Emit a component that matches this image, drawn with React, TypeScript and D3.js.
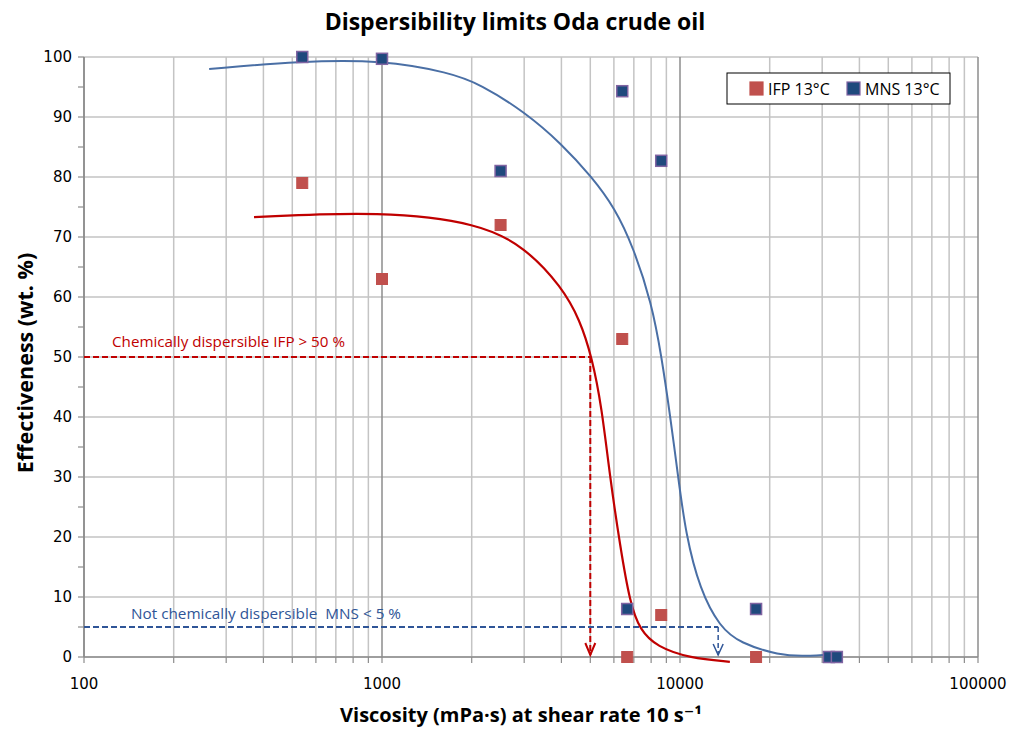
import React from "react";
import * as d3 from "d3";

// Measured points
const ifpVisc = [540, 1000, 2500, 6400, 6650, 8650, 18000];
const ifpEff = [79, 63, 72, 53, 0, 7, 0];
const mnsVisc = [540, 1000, 2500, 6400, 8650, 6650, 18000, 31600, 33600];
const mnsEff = [100, 99.7, 81, 94.3, 82.7, 8, 8, 0, 0];

// Fitted trend curves
const ifpFitVisc = [372, 1000, 2133, 3020, 4010, 4613, 5060, 5460, 5820, 6300, 6800, 7340, 8360, 10800, 14700];
const ifpFitEff = [73.3, 74.3, 72.3, 68.3, 61.7, 56.2, 50, 41.7, 30, 18.4, 8.9, 4.5, 1.7, -0.2, -0.8];
const mnsFitVisc = [263, 530, 1000, 1690, 2133, 3020, 4010, 5060, 6050, 6970, 8035, 8675, 9250, 9860, 10450, 11660, 13600, 15900, 21600, 26000, 33500];
const mnsFitEff = [98, 99.3, 99.5, 97.4, 95.5, 90.8, 85.5, 80, 74.8, 68.3, 59, 50, 40.5, 30, 20.5, 11.2, 5, 2.3, 0.3, 0.1, 0.5];

// Dispersibility limits
const ifpLimit = { label: "Chemically dispersible IFP > 50 %", eff: 50, visc: 5000 };
const mnsLimit = { label: "Not chemically dispersible  MNS < 5 %", eff: 5, visc: 13430 };

const xDomain = [100, 100000];
const yTicks = [0, 10, 20, 30, 40, 50, 60, 70, 80, 90, 100];
const xTickLabels = ["100", "1000", "10000", "100000"];

const legendItems = [
  { label: "IFP 13°C", fill: "#c0504d", stroke: "#c0504d" },
  { label: "MNS 13°C", fill: "#1f497d", stroke: "#8064a2" },
];

export default function App() {
  const W = 1010, H = 731;
  const left = 84, right = 978, top = 57, bottom = 657;
  const x = d3.scaleLog().domain(xDomain).range([left, right]);
  const y = d3.scaleLinear().domain([0, 100]).range([bottom, top]);

  const logTicks: number[] = [];
  for (let dec = 100; dec < 100000; dec *= 10) {
    for (let k = 1; k <= 9; k++) logTicks.push(dec * k);
  }
  logTicks.push(100000);

  const line = d3
    .line<[number, number]>()
    .x((d) => x(d[0]))
    .y((d) => y(d[1]))
    .curve(d3.curveBasis);

  const ifpPath = line(ifpFitVisc.map((v, i) => [v, ifpFitEff[i]] as [number, number]));
  const mnsPath = line(mnsFitVisc.map((v, i) => [v, mnsFitEff[i]] as [number, number]));

  const font = "'Open Sans', 'DejaVu Sans', sans-serif";
  const tickFont = "'DejaVu Sans', Verdana, sans-serif";
  const ms = 11;
  const red = "#c00000";
  const blue = "#2f5597";

  return (
    <svg width={W} height={H} style={{ display: "block", position: "absolute", left: 0, top: 0 }}>
      <rect width={W} height={H} fill="#fff" />

      {/* horizontal grid */}
      {yTicks.map((t) => (
        <line key={"h" + t} x1={left} x2={right} y1={y(t)} y2={y(t)} stroke="#a6a6a6" strokeWidth={1.2} />
      ))}
      {/* vertical log grid */}
      {logTicks.map((t) => {
        const major = Math.abs(Math.log10(t) - Math.round(Math.log10(t))) < 1e-9;
        return (
          <line
            key={"v" + t}
            x1={x(t)}
            x2={x(t)}
            y1={top}
            y2={bottom}
            stroke={major ? "#8c8c8c" : "#c4c4c4"}
            strokeWidth={1.5}
          />
        );
      })}

      {/* axes */}
      <line x1={left} x2={left} y1={top} y2={bottom} stroke="#8c8c8c" strokeWidth={1.5} />
      <line x1={left} x2={right} y1={bottom} y2={bottom} stroke="#8c8c8c" strokeWidth={1.5} />
      {d3.range(0, 101, 5).map((t) => (
        <line key={"yt" + t} x1={left - 6} x2={left} y1={y(t)} y2={y(t)} stroke="#8c8c8c" strokeWidth={1.2} />
      ))}
      {logTicks.map((t) => (
        <line key={"xt" + t} x1={x(t)} x2={x(t)} y1={bottom} y2={bottom + 6} stroke="#8c8c8c" strokeWidth={1.2} />
      ))}

      {yTicks.map((t) => (
        <text key={"yl" + t} x={left - 12} y={y(t)} dy="0.35em" textAnchor="end" fontFamily={tickFont} fontSize={15} fill="#000">
          {t}
        </text>
      ))}
      {xTickLabels.map((t) => (
        <text key={"xl" + t} x={x(+t)} y={bottom + 32} textAnchor="middle" fontFamily={tickFont} fontSize={15} fill="#000">
          {t}
        </text>
      ))}

      {/* limit lines */}
      <line x1={left} x2={x(ifpLimit.visc)} y1={y(ifpLimit.eff)} y2={y(ifpLimit.eff)} stroke={red} strokeWidth={2} strokeDasharray="6,3" />
      <line x1={x(ifpLimit.visc)} x2={x(ifpLimit.visc)} y1={y(ifpLimit.eff)} y2={bottom - 2} stroke={red} strokeWidth={2} strokeDasharray="6,3" />
      <path
        d={`M${x(ifpLimit.visc) - 5},${bottom - 14} L${x(ifpLimit.visc)},${bottom - 2} L${x(ifpLimit.visc) + 5},${bottom - 14}`}
        fill="none"
        stroke={red}
        strokeWidth={2}
      />
      <line x1={left} x2={x(mnsLimit.visc)} y1={y(mnsLimit.eff)} y2={y(mnsLimit.eff)} stroke={blue} strokeWidth={2} strokeDasharray="6,3" />
      <line x1={x(mnsLimit.visc)} x2={x(mnsLimit.visc)} y1={y(mnsLimit.eff)} y2={bottom - 2} stroke={blue} strokeWidth={1.5} strokeDasharray="5,3" />
      <path
        d={`M${x(mnsLimit.visc) - 5},${bottom - 13} L${x(mnsLimit.visc)},${bottom - 2} L${x(mnsLimit.visc) + 5},${bottom - 13}`}
        fill="none"
        stroke={blue}
        strokeWidth={1.5}
      />
      <text x={112} y={y(ifpLimit.eff) - 10} fontFamily={font} fontSize={15.2} fill={red}>
        {ifpLimit.label}
      </text>
      <text x={131} y={y(mnsLimit.eff) - 8} fontFamily={font} fontSize={15.3} fill={blue} style={{ whiteSpace: "pre" }}>
        {mnsLimit.label}
      </text>

      {/* fitted curves */}
      <path d={mnsPath ?? ""} fill="none" stroke="#4a6fa5" strokeWidth={2} />
      <path d={ifpPath ?? ""} fill="none" stroke={red} strokeWidth={2.2} />

      {/* measured points */}
      {ifpVisc.map((v, i) => (
        <rect key={"ip" + i} x={x(v) - ms / 2} y={y(ifpEff[i]) - ms / 2} width={ms} height={ms} fill="#c0504d" stroke="#c0504d" strokeWidth={1} />
      ))}
      {mnsVisc.map((v, i) => (
        <rect key={"mp" + i} x={x(v) - ms / 2} y={y(mnsEff[i]) - ms / 2} width={ms} height={ms} fill="#1f497d" stroke="#8064a2" strokeWidth={1.5} />
      ))}

      {/* legend */}
      <rect x={727} y={73} width={223} height={31} fill="#fff" stroke="#000" strokeWidth={1} />
      {legendItems.map((it, i) => {
        const lx = 750 + i * 97;
        return (
          <g key={it.label}>
            <rect x={lx} y={82} width={13} height={13} fill={it.fill} stroke={it.stroke} strokeWidth={1.2} />
            <text x={lx + 18} y={89} dy="0.35em" fontFamily={font} fontSize={16} fill="#000">
              {it.label}
            </text>
          </g>
        );
      })}

      {/* titles */}
      <text x={515} y={30} textAnchor="middle" fontFamily={font} fontWeight="bold" fontSize={23} fill="#000">
        Dispersibility limits Oda crude oil
      </text>
      <text x={521} y={722} textAnchor="middle" fontFamily={font} fontWeight="bold" fontSize={20} fill="#000">
        Viscosity (mPa·s) at shear rate 10 s⁻¹
      </text>
      <text transform={`translate(33,363) rotate(-90)`} textAnchor="middle" fontFamily={font} fontWeight="bold" fontSize={21.5} fill="#000">
        Effectiveness (wt. %)
      </text>
    </svg>
  );
}
